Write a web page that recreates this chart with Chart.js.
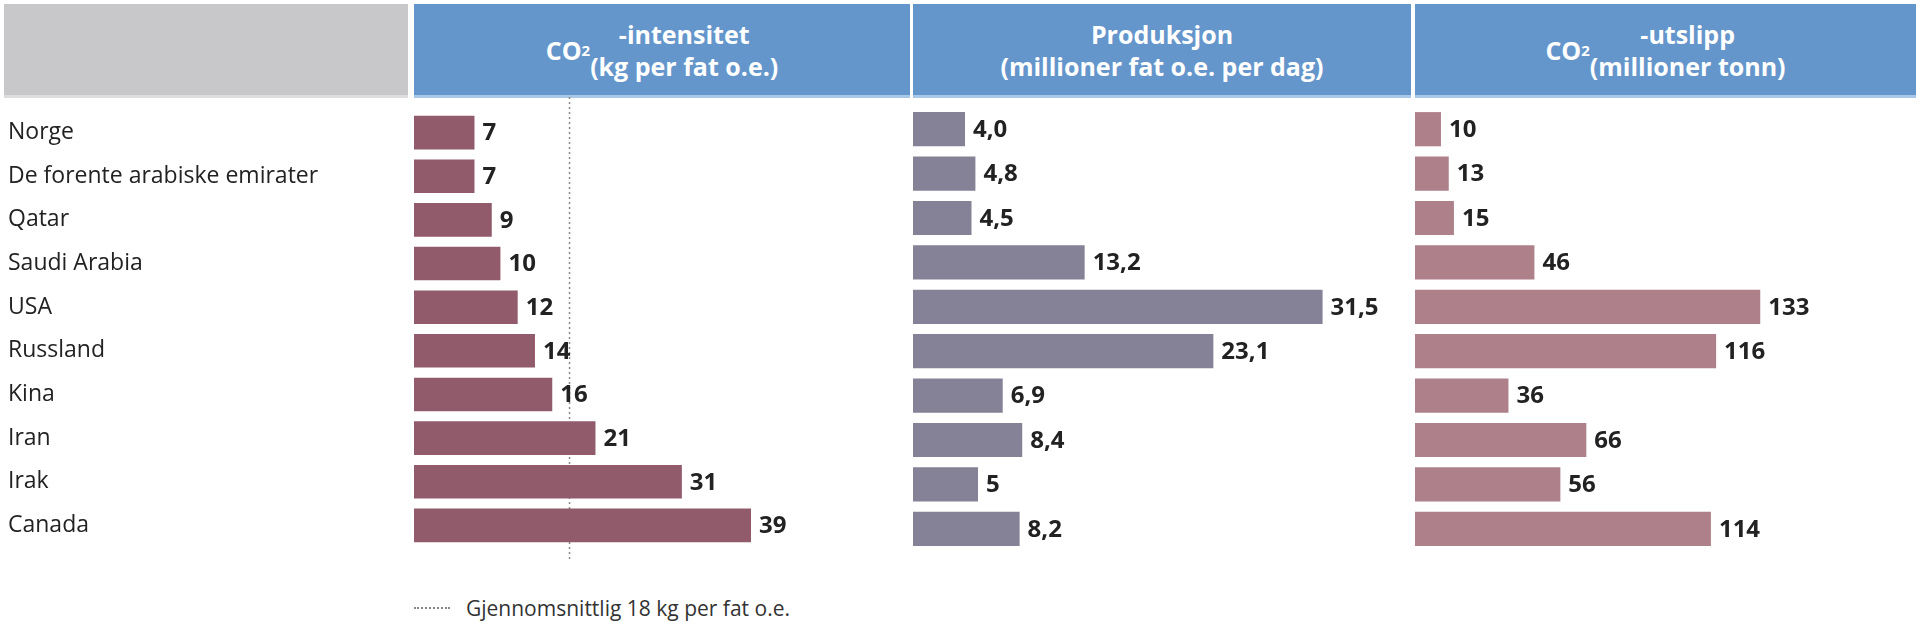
<!DOCTYPE html>
<html><head><meta charset="utf-8">
<script src="https://cdn.jsdelivr.net/npm/chart.js@4"></script>
<style>
body{margin:0;width:1920px;height:628px;background:#fff;font-family:"Open Sans","Noto Sans",sans-serif;position:relative;overflow:hidden}
.h{position:absolute;top:4px;height:94px;color:#fff;font-weight:bold;font-size:25px;line-height:32px;text-align:center;display:flex;align-items:center;justify-content:center;box-sizing:border-box;border-bottom:3px solid #a9c7e8}
.c{position:absolute}
#leg{position:absolute;left:414px;top:594px;font-size:21px;color:#333;display:flex;align-items:center}
#leg span{display:inline-block;width:36px;border-top:2px dotted #888;margin-right:16px}
</style></head><body>
<div class="h" style="left:4px;width:404px;background:#c8c8ca;border-bottom-color:#ddd"></div>
<div class="h" style="left:414px;width:496px;background:#6496cc">CO<sub style="font-size:15px;line-height:0">2</sub>-intensitet<br>(kg per fat o.e.)</div>
<div class="h" style="left:913px;width:498px;background:#6496cc"><div>Produksjon<br>(millioner fat o.e. per dag)</div></div>
<div class="h" style="left:1415px;width:501px;background:#6496cc">CO<sub style="font-size:15px;line-height:0">2</sub>-utslipp<br>(millioner tonn)</div>
<div class="c" style="left:0;top:97px;width:910px;height:464px"><canvas id="c1"></canvas></div>
<div class="c" style="left:913px;top:97px;width:498px;height:464px"><canvas id="c2"></canvas></div>
<div class="c" style="left:1415px;top:97px;width:501px;height:464px"><canvas id="c3"></canvas></div>
<div id="leg"><span></span>Gjennomsnittlig 18 kg per fat o.e.</div>
<script>
const countries=["Norge","De forente arabiske emirater","Qatar","Saudi Arabia","USA","Russland","Kina","Iran","Irak","Canada"];
const intensity=[7,7,9,10,12,14,16,21,31,39];
const production=[4.0,4.8,4.5,13.2,31.5,23.1,6.9,8.4,5,8.2];
const productionLabels=["4,0","4,8","4,5","13,2","31,5","23,1","6,9","8,4","5","8,2"];
const emissions=[10,13,15,46,133,116,36,66,56,114];
const averageIntensity=18;

const valLabels={id:'vl',afterDatasetsDraw(ch,a,o){const ctx=ch.ctx;const m=ch.getDatasetMeta(0);ctx.save();ctx.font='bold 24px "Open Sans","Noto Sans",sans-serif';ctx.fillStyle='#222';ctx.textBaseline='middle';
m.data.forEach((b,i)=>{ctx.fillText(o.labels[i],b.x+8,b.y+1);});ctx.restore();}};
const avgLine={id:'avg',beforeDatasetsDraw(ch,a,o){if(o.value==null)return;const ctx=ch.ctx;const x=ch.scales.x.getPixelForValue(o.value);ctx.save();ctx.strokeStyle='#888';ctx.lineWidth=1.5;ctx.setLineDash([2,3]);ctx.beginPath();ctx.moveTo(x,0);ctx.lineTo(x,ch.height);ctx.stroke();ctx.restore();}};
Chart.register(valLabels,avgLine);

function mk(id,data,labels,color,max,showY,avg){
 new Chart(document.getElementById(id),{type:'bar',
  data:{labels:countries,datasets:[{data:data,backgroundColor:color,barPercentage:0.77,categoryPercentage:1}]},
  options:{indexAxis:'y',responsive:true,maintainAspectRatio:false,animation:false,
   layout:{padding:{top:10,bottom:10,left:showY?8:0,right:0}},
   plugins:{legend:{display:false},tooltip:{enabled:false},vl:{labels:labels},avg:{value:avg}},
   scales:{x:{display:false,min:0,max:max},
    y:{display:showY,grid:{display:false},border:{display:false},
     ticks:{display:showY,crossAlign:'far',padding:0,color:'#222',font:{size:23,family:'"Open Sans","Noto Sans",sans-serif'}},
     afterFit:s=>{if(showY)s.width=406;}}}}});
}
mk('c1',intensity,intensity.map(String),'#925b6b',57.4,true,averageIntensity);
mk('c2',production,productionLabels,'#858196',38.3,false,null);
mk('c3',emissions,emissions.map(String),'#ad808a',193,false,null);
</script></body></html>
